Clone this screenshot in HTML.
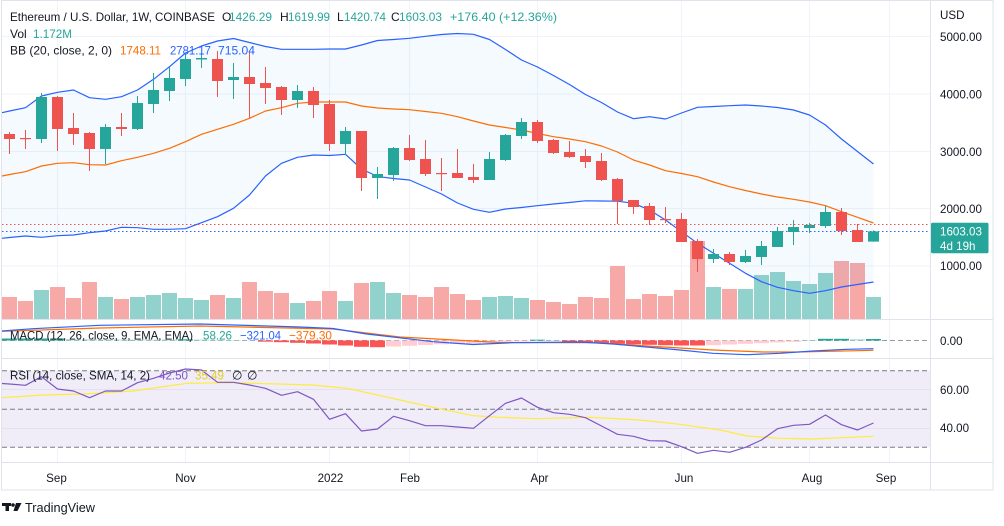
<!DOCTYPE html>
<html><head><meta charset="utf-8"><style>
html,body{margin:0;padding:0;background:#fff;}
svg{display:block;font-family:"Liberation Sans",sans-serif;}
</style></head><body>
<svg width="1004" height="526" viewBox="0 0 1004 526" xmlns="http://www.w3.org/2000/svg">
<rect width="1004" height="526" fill="#fff"/>
<!-- grid -->
<g stroke="#f0f3fa" stroke-width="1" fill="none">
<path d="M57.5 1V462M185.5 1V462M329.5 1V462M409.5 1V462M537.5 1V462M681.5 1V462M809.5 1V462M889.5 1V462"/>
<path d="M2 36.5H930M2 94H930M2 151.5H930M2 208.5H930M2 266H930"/>
</g>
<!-- RSI band -->
<rect x="2" y="370.7" width="928.5" height="76.6" fill="#f0edf8"/>
<path d="M2 389.5H930M2 428.5H930" stroke="#e3e1ed" stroke-width="1"/>
<path d="M2 370.7H930M2 409.2H930M2 447.3H930" stroke="#787b86" stroke-width="1" stroke-dasharray="5,3"/>

<!-- volume -->
<g fill="#f7a9a7">
<rect x="2" y="297" width="15" height="22"/><rect x="18" y="301" width="15" height="18"/><rect x="50" y="287" width="15" height="32"/><rect x="66" y="298" width="15" height="21"/><rect x="82" y="282" width="15" height="37"/><rect x="114" y="299" width="15" height="20"/><rect x="210" y="295" width="15" height="24"/><rect x="242" y="282" width="15" height="37"/><rect x="258" y="291" width="15" height="28"/><rect x="274" y="293" width="15" height="26"/><rect x="306" y="301" width="15" height="18"/><rect x="322" y="291" width="15" height="28"/><rect x="354" y="283" width="15" height="36"/><rect x="402" y="295" width="15" height="24"/><rect x="418" y="297" width="15" height="22"/><rect x="434" y="287" width="15" height="32"/><rect x="450" y="294" width="15" height="25"/><rect x="466" y="300" width="15" height="19"/><rect x="530" y="300" width="15" height="19"/><rect x="546" y="302" width="15" height="17"/><rect x="562" y="304" width="15" height="15"/><rect x="578" y="297" width="15" height="22"/><rect x="594" y="298" width="15" height="21"/><rect x="610" y="266" width="15" height="53"/><rect x="626" y="299" width="15" height="20"/><rect x="642" y="294" width="15" height="25"/><rect x="658" y="296" width="15" height="23"/><rect x="674" y="290" width="15" height="29"/><rect x="690" y="241" width="15" height="78"/><rect x="722" y="289" width="15" height="30"/><rect x="834" y="261" width="15" height="58"/><rect x="850" y="263" width="15" height="56"/>
</g>
<g fill="#92d2cc">
<rect x="34" y="290" width="15" height="29"/><rect x="98" y="297" width="15" height="22"/><rect x="130" y="297" width="15" height="22"/><rect x="146" y="295" width="15" height="24"/><rect x="162" y="293" width="15" height="26"/><rect x="178" y="298" width="15" height="21"/><rect x="194" y="300" width="15" height="19"/><rect x="226" y="298" width="15" height="21"/><rect x="290" y="303" width="15" height="16"/><rect x="338" y="301" width="15" height="18"/><rect x="370" y="282" width="15" height="37"/><rect x="386" y="293" width="15" height="26"/><rect x="482" y="297" width="15" height="22"/><rect x="498" y="296" width="15" height="23"/><rect x="514" y="298" width="15" height="21"/><rect x="706" y="287" width="15" height="32"/><rect x="738" y="289" width="15" height="30"/><rect x="754" y="275" width="15" height="44"/><rect x="770" y="272" width="15" height="47"/><rect x="786" y="281" width="15" height="38"/><rect x="802" y="284" width="15" height="35"/><rect x="818" y="273" width="15" height="46"/><rect x="866" y="297" width="15" height="22"/>
</g>

<!-- BB fill -->
<polygon fill="rgba(33,150,243,0.05)" points="2,112.7 9.5,111 25.5,107.7 41.5,96 57.5,92.3 73.5,90 89.5,97.7 105.5,99.3 121.5,96.7 137.5,90 153.5,79.3 169.5,66.7 185.5,53 201.5,46 217.5,41 233.5,38.5 249.5,42.5 265.5,46.5 281.5,49.3 297.5,49.3 313.5,49.3 329.5,49 345.5,49 361.5,45 377.5,40.5 393.5,39.5 409.5,38.3 425.5,36.3 441.5,34.5 457.5,33.5 473.5,34.3 489.5,39.5 505.5,49.5 521.5,60 537.5,67 553.5,75.5 569.5,84.5 585.5,94.5 601.5,102.5 617.5,112 633.5,118.7 649.5,116.7 665.5,119 681.5,113 697.5,107.3 713.5,106.5 729.5,105.7 745.5,105 761.5,106 777.5,107.5 793.5,110 809.5,115 825.5,125 841.5,139 857.5,151.5 873.5,164 873.5,282 857.5,284.5 841.5,287 825.5,290.7 809.5,293.3 793.5,290.7 777.5,287.3 761.5,281.7 745.5,273.3 729.5,263.3 713.5,253.3 697.5,243.3 681.5,231.7 665.5,220 649.5,210 633.5,203.3 617.5,201.2 601.5,201 585.5,200.8 569.5,202.5 553.5,204 537.5,205.7 521.5,207.5 505.5,209 489.5,212.3 473.5,209.3 457.5,203 441.5,194 425.5,187 409.5,180 393.5,178.5 377.5,176.5 361.5,169 345.5,154.3 329.5,155.5 313.5,155 297.5,157.3 281.5,163.3 265.5,176 249.5,195 233.5,208.3 217.5,216.7 201.5,222.7 185.5,228.7 169.5,229.3 153.5,229.3 137.5,227.7 121.5,227.3 105.5,231 89.5,232.7 73.5,235 57.5,235.7 41.5,237.3 25.5,236 9.5,237.5 2,238.3"/>
<g fill="none" stroke-width="1.2" stroke-linejoin="round">
<polyline stroke="#2962ff" points="2,112.7 9.5,111 25.5,107.7 41.5,96 57.5,92.3 73.5,90 89.5,97.7 105.5,99.3 121.5,96.7 137.5,90 153.5,79.3 169.5,66.7 185.5,53 201.5,46 217.5,41 233.5,38.5 249.5,42.5 265.5,46.5 281.5,49.3 297.5,49.3 313.5,49.3 329.5,49 345.5,49 361.5,45 377.5,40.5 393.5,39.5 409.5,38.3 425.5,36.3 441.5,34.5 457.5,33.5 473.5,34.3 489.5,39.5 505.5,49.5 521.5,60 537.5,67 553.5,75.5 569.5,84.5 585.5,94.5 601.5,102.5 617.5,112 633.5,118.7 649.5,116.7 665.5,119 681.5,113 697.5,107.3 713.5,106.5 729.5,105.7 745.5,105 761.5,106 777.5,107.5 793.5,110 809.5,115 825.5,125 841.5,139 857.5,151.5 873.5,164"/>
<polyline stroke="#2962ff" points="873.5,282 857.5,284.5 841.5,287 825.5,290.7 809.5,293.3 793.5,290.7 777.5,287.3 761.5,281.7 745.5,273.3 729.5,263.3 713.5,253.3 697.5,243.3 681.5,231.7 665.5,220 649.5,210 633.5,203.3 617.5,201.2 601.5,201 585.5,200.8 569.5,202.5 553.5,204 537.5,205.7 521.5,207.5 505.5,209 489.5,212.3 473.5,209.3 457.5,203 441.5,194 425.5,187 409.5,180 393.5,178.5 377.5,176.5 361.5,169 345.5,154.3 329.5,155.5 313.5,155 297.5,157.3 281.5,163.3 265.5,176 249.5,195 233.5,208.3 217.5,216.7 201.5,222.7 185.5,228.7 169.5,229.3 153.5,229.3 137.5,227.7 121.5,227.3 105.5,231 89.5,232.7 73.5,235 57.5,235.7 41.5,237.3 25.5,236 9.5,237.5 2,238.3"/>
<polyline stroke="#ff6d00" points="2,176 9.5,174.5 25.5,171.7 41.5,166 57.5,163.3 73.5,162.7 89.5,164.7 105.5,165 121.5,160.7 137.5,157.3 153.5,153.3 169.5,148.3 185.5,141.7 201.5,134.3 217.5,129.3 233.5,124.3 249.5,118.3 265.5,111 281.5,107.7 297.5,103.3 313.5,102 329.5,102 345.5,102 361.5,106 377.5,108 393.5,109 409.5,109.7 425.5,111.5 441.5,113.3 457.5,116.7 473.5,121 489.5,125 505.5,127.5 521.5,130 537.5,133.5 553.5,136.7 569.5,139 585.5,141.7 601.5,146 617.5,152 633.5,160 649.5,165 665.5,170.7 681.5,173.5 697.5,176.7 713.5,182 729.5,186.7 745.5,190.5 761.5,194 777.5,197 793.5,199.3 809.5,202 825.5,205.7 841.5,211.7 857.5,217.3 873.5,223"/>
</g>

<!-- price lines -->
<path d="M2 224.5H930" stroke="#ef5350" stroke-width="1" stroke-dasharray="1.5,2.5"/>
<path d="M2 231.5H930" stroke="#2962ff" stroke-width="1" stroke-dasharray="1.5,2.5"/>

<!-- candles -->
<path stroke="#ef5350" stroke-width="1" fill="none" d="M9.5 132V154M25.5 130V149M57.5 96V151M73.5 113V145M89.5 132V171M121.5 113V136M217.5 51V97M249.5 52V118M265.5 67V104M281.5 86V115M313.5 87V118M329.5 100V151M361.5 131V191M409.5 135V161M425.5 140V176M441.5 158V191M457.5 149V178M473.5 164V183M537.5 120V143M553.5 139V154M569.5 141V158M585.5 149V168M601.5 153V181M617.5 178V224M633.5 200V214M649.5 203V225M665.5 207V223M681.5 213V242M697.5 239V272M729.5 252V265M841.5 208V235M857.5 224V242"/>
<g fill="#ef5350">
<rect x="4" y="134" width="11" height="5"/><rect x="20" y="138" width="11" height="1.2"/><rect x="52" y="97" width="11" height="32"/><rect x="68" y="128" width="11" height="6"/><rect x="84" y="133" width="11" height="16"/><rect x="116" y="127" width="11" height="2"/><rect x="212" y="59" width="11" height="22"/><rect x="244" y="77" width="11" height="7"/><rect x="260" y="83" width="11" height="5"/><rect x="276" y="87" width="11" height="13"/><rect x="308" y="91" width="11" height="14"/><rect x="324" y="104" width="11" height="40"/><rect x="356" y="131" width="11" height="47"/><rect x="404" y="148" width="11" height="12"/><rect x="420" y="159" width="11" height="15"/><rect x="436" y="173" width="11" height="1.2"/><rect x="452" y="173" width="11" height="5"/><rect x="468" y="177" width="11" height="3"/><rect x="532" y="122" width="11" height="19"/><rect x="548" y="140" width="11" height="13"/><rect x="564" y="152" width="11" height="5"/><rect x="580" y="156" width="11" height="6"/><rect x="596" y="161" width="11" height="19"/><rect x="612" y="179" width="11" height="22"/><rect x="628" y="200" width="11" height="7"/><rect x="644" y="206" width="11" height="14"/><rect x="660" y="219" width="11" height="1.2"/><rect x="676" y="219" width="11" height="23"/><rect x="692" y="241" width="11" height="18"/><rect x="724" y="254" width="11" height="8"/><rect x="836" y="212" width="11" height="19"/><rect x="852" y="230" width="11" height="12"/>
</g>
<path stroke="#26a69a" stroke-width="1" fill="none" d="M41.5 93V143M105.5 124V164M137.5 96V130M153.5 73V113M169.5 67V101M185.5 54V86M201.5 53V68M233.5 63V99M297.5 85V108M345.5 127V155M377.5 167V199M393.5 147V181M489.5 152V180M505.5 134V161M521.5 118V139M713.5 249V263M745.5 250V263M761.5 241V265M777.5 227V247M793.5 220V245M809.5 223V233M825.5 206V228M873.5 230.4V241.8"/>
<g fill="#26a69a">
<rect x="36" y="97" width="11" height="42"/><rect x="100" y="127" width="11" height="22"/><rect x="132" y="103" width="11" height="26"/><rect x="148" y="90" width="11" height="14"/><rect x="164" y="78" width="11" height="13"/><rect x="180" y="59" width="11" height="20"/><rect x="196" y="58" width="11" height="1.5"/><rect x="228" y="77" width="11" height="3"/><rect x="292" y="91" width="11" height="9"/><rect x="340" y="131" width="11" height="13"/><rect x="372" y="174" width="11" height="4"/><rect x="388" y="148" width="11" height="27"/><rect x="484" y="159" width="11" height="21"/><rect x="500" y="135" width="11" height="25"/><rect x="516" y="122" width="11" height="14"/><rect x="708" y="254" width="11" height="5"/><rect x="740" y="256" width="11" height="6"/><rect x="756" y="246" width="11" height="11"/><rect x="772" y="231" width="11" height="16"/><rect x="788" y="227" width="11" height="5"/><rect x="804" y="225" width="11" height="3"/><rect x="820" y="212" width="11" height="14"/><rect x="868" y="231.4" width="11" height="10.2"/>
</g>

<!-- MACD -->
<path d="M2 340.5H930" stroke="#9598a1" stroke-width="1" stroke-dasharray="5,3"/>
<g fill="#26a69a">
<rect x="2" y="338.5" width="15" height="2"/><rect x="18" y="338.5" width="15" height="2"/><rect x="34" y="338.5" width="15" height="2"/><rect x="50" y="338.5" width="15" height="2"/><rect x="178" y="339.3" width="15" height="1.2"/><rect x="530" y="339.7" width="15" height="0.8"/><rect x="818" y="338.8" width="15" height="1.7"/><rect x="834" y="338.8" width="15" height="1.7"/><rect x="866" y="339" width="15" height="1.5"/>
</g>
<g fill="#b2dfdb">
<rect x="66" y="339" width="15" height="1.5"/><rect x="82" y="339.2" width="15" height="1.3"/><rect x="98" y="339.4" width="15" height="1.1"/><rect x="114" y="339.5" width="15" height="1"/><rect x="130" y="339.6" width="15" height="0.9"/><rect x="146" y="339.6" width="15" height="0.9"/><rect x="162" y="339.5" width="15" height="1"/><rect x="194" y="339.5" width="15" height="1"/><rect x="210" y="339.8" width="15" height="0.7"/><rect x="226" y="340" width="15" height="0.5"/><rect x="242" y="340.2" width="15" height="0.3"/><rect x="546" y="340.1" width="15" height="0.4"/><rect x="802" y="340" width="15" height="0.5"/><rect x="850" y="339.2" width="15" height="1.3"/>
</g>
<g fill="#ff5252">
<rect x="258" y="340.5" width="15" height="1.2"/><rect x="274" y="340.5" width="15" height="1.7"/><rect x="290" y="340.5" width="15" height="2.3"/><rect x="306" y="340.5" width="15" height="3"/><rect x="322" y="340.5" width="15" height="4"/><rect x="338" y="340.5" width="15" height="5"/><rect x="354" y="340.5" width="15" height="6.3"/><rect x="370" y="340.5" width="15" height="6.7"/><rect x="562" y="340.5" width="15" height="1.3"/><rect x="578" y="340.5" width="15" height="2"/><rect x="594" y="340.5" width="15" height="2.7"/><rect x="610" y="340.5" width="15" height="3.3"/><rect x="626" y="340.5" width="15" height="3.8"/><rect x="642" y="340.5" width="15" height="4.3"/><rect x="658" y="340.5" width="15" height="4.7"/><rect x="674" y="340.5" width="15" height="5"/><rect x="690" y="340.5" width="15" height="5"/>
</g>
<g fill="#ffcdd2">
<rect x="386" y="340.5" width="15" height="6"/><rect x="402" y="340.5" width="15" height="5.3"/><rect x="418" y="340.5" width="15" height="4.5"/><rect x="434" y="340.5" width="15" height="3.8"/><rect x="450" y="340.5" width="15" height="3.3"/><rect x="466" y="340.5" width="15" height="3"/><rect x="482" y="340.5" width="15" height="2.6"/><rect x="498" y="340.5" width="15" height="2"/><rect x="514" y="340.5" width="15" height="1"/><rect x="706" y="340.5" width="15" height="4.7"/><rect x="722" y="340.5" width="15" height="4"/><rect x="738" y="340.5" width="15" height="3.3"/><rect x="754" y="340.5" width="15" height="2.7"/><rect x="770" y="340.5" width="15" height="2"/><rect x="786" y="340.5" width="15" height="1.3"/>
</g>
<g fill="none" stroke-width="1.2" stroke-linejoin="round">
<polyline stroke="#ff6d00" points="2,331.3 100,328 200,326 333,329 400,337 500,342.5 530,342.7 597,342.7 647,346 713,350 763,352 797,352 830,351.3 873.5,350.3"/>
<polyline stroke="#2962ff" points="2,331 33,328.7 100,325.3 200,324 300,327 333,328.5 366.7,334 433,341.7 473,344.5 513,342.7 580,342 613,344 680,350 713,353.3 747,354.7 780,353.3 813,351 847,349.3 873.5,348.7"/>
</g>

<!-- RSI lines -->
<polyline fill="none" stroke="#ffeb3b" stroke-width="1.2" points="2,397.7 43,395 83,394 133,391 187,383.3 233,382.7 312,385 347,388.3 400,400 433,407.3 473,415.7 500,417.3 537,418.7 590,417.3 640,420 680,424.3 720,430 747,436 780,438.3 813,439 873.5,436.3"/>
<polyline fill="none" stroke="#7e57c2" stroke-width="1.2" stroke-linejoin="round" points="2,383.5 9.5,384 25.5,385.3 41.5,376.7 57.5,389 73.5,391 89.5,397.7 105.5,391 121.5,391 137.5,382.7 153.5,378.3 169.5,373 185.5,369 201.5,370 217.5,382.3 233.5,382.3 249.5,385 265.5,388.3 281.5,395.3 297.5,391.7 313.5,399.3 329.5,419.3 345.5,413.7 361.5,431 377.5,429 393.5,416.3 409.5,420.7 425.5,425.7 441.5,425.7 457.5,427 473.5,428.3 489.5,415.7 505.5,403.3 521.5,398 537.5,407.3 553.5,412.7 569.5,414.3 585.5,417.7 601.5,426 617.5,434.3 633.5,436.3 649.5,440.7 665.5,441 681.5,446.7 697.5,453.3 713.5,450.3 729.5,452.3 745.5,447.3 761.5,440 777.5,428.7 793.5,425.3 809.5,424.3 825.5,415 841.5,424.7 857.5,430 873.5,423"/>

<!-- frame & separators -->
<g stroke="#e0e3eb" stroke-width="1" fill="none">
<rect x="1.5" y="0.5" width="991.5" height="489.5"/>
<path d="M930.5 0.5V490M1.5 319.5H993M1.5 358.5H993M1.5 462.5H993"/>
</g>

<!-- header legend -->
<g font-size="12" fill="#131722">
<text x="10" y="21" textLength="205" lengthAdjust="spacingAndGlyphs">Ethereum / U.S. Dollar, 1W, COINBASE</text>
<text x="222" y="21">O</text><text x="229" y="21" fill="#26a69a" textLength="43" lengthAdjust="spacingAndGlyphs">1426.29</text>
<text x="280" y="21">H</text><text x="288" y="21" fill="#26a69a" textLength="42" lengthAdjust="spacingAndGlyphs">1619.99</text>
<text x="337" y="21">L</text><text x="344" y="21" fill="#26a69a" textLength="42" lengthAdjust="spacingAndGlyphs">1420.74</text>
<text x="391" y="21">C</text><text x="399" y="21" fill="#26a69a" textLength="43" lengthAdjust="spacingAndGlyphs">1603.03</text>
<text x="450" y="21" fill="#26a69a" textLength="107" lengthAdjust="spacingAndGlyphs">+176.40 (+12.36%)</text>
<text x="10" y="38">Vol</text><text x="33" y="38" fill="#26a69a" textLength="39" lengthAdjust="spacingAndGlyphs">1.172M</text>
<text x="10" y="54.5" textLength="102" lengthAdjust="spacingAndGlyphs">BB (20, close, 2, 0)</text>
<text x="120" y="54.5" fill="#ff6d00" textLength="41" lengthAdjust="spacingAndGlyphs">1748.11</text>
<text x="170" y="54.5" fill="#2962ff" textLength="41" lengthAdjust="spacingAndGlyphs">2781.17</text>
<text x="218" y="54.5" fill="#2962ff" textLength="37" lengthAdjust="spacingAndGlyphs">715.04</text>
<text x="10" y="339.5" textLength="183" lengthAdjust="spacingAndGlyphs">MACD (12, 26, close, 9, EMA, EMA)</text>
<text x="203" y="339.5" fill="#26a69a" textLength="29" lengthAdjust="spacingAndGlyphs">58.26</text>
<text x="240" y="339.5" fill="#2962ff" textLength="41" lengthAdjust="spacingAndGlyphs">−321.04</text>
<text x="289" y="339.5" fill="#ff6d00" textLength="43" lengthAdjust="spacingAndGlyphs">−379.30</text>
<text x="10" y="379.5" textLength="140" lengthAdjust="spacingAndGlyphs">RSI (14, close, SMA, 14, 2)</text>
<text x="159" y="379.5" fill="#7e57c2" textLength="29" lengthAdjust="spacingAndGlyphs">42.50</text>
<text x="195" y="379.5" fill="#e6cf1f" textLength="29" lengthAdjust="spacingAndGlyphs">35.49</text>
<text x="232" y="379.5">∅</text><text x="247" y="379.5">∅</text>
</g>

<!-- right axis -->
<g font-size="11.6" fill="#131722">
<text x="940" y="19">USD</text>
<text x="940" y="41">5000.00</text>
<text x="940" y="98.5">4000.00</text>
<text x="940" y="156">3000.00</text>
<text x="940" y="213">2000.00</text>
<text x="940" y="270">1000.00</text>
<text x="940" y="345">0.00</text>
<text x="940" y="394">60.00</text>
<text x="940" y="432">40.00</text>
</g>
<rect x="931" y="222.7" width="57.5" height="30.6" rx="1.5" fill="#26a69a"/>
<g font-size="11.6" fill="#ffffff">
<text x="940" y="235.5">1603.03</text>
<text x="940" y="250">4d 19h</text>
</g>

<!-- time axis -->
<g font-size="11.6" fill="#131722" text-anchor="middle">
<text x="56.5" y="482">Sep</text>
<text x="185.5" y="482">Nov</text>
<text x="330.5" y="482">2022</text>
<text x="410" y="482">Feb</text>
<text x="539.5" y="482">Apr</text>
<text x="684" y="482">Jun</text>
<text x="812" y="482">Aug</text>
<text x="886" y="482">Sep</text>
</g>

<!-- TradingView logo -->
<g fill="#131722">
<rect x="2" y="503" width="9" height="3"/>
<rect x="5.5" y="503" width="3.5" height="8"/>
<circle cx="13" cy="505" r="1.8"/>
<polygon points="16,503 21.5,503 17.5,511 13.5,511"/>
</g>
<text x="25" y="512" font-size="12.6" fill="#131722" textLength="70" lengthAdjust="spacingAndGlyphs">TradingView</text>
</svg>
</body></html>
